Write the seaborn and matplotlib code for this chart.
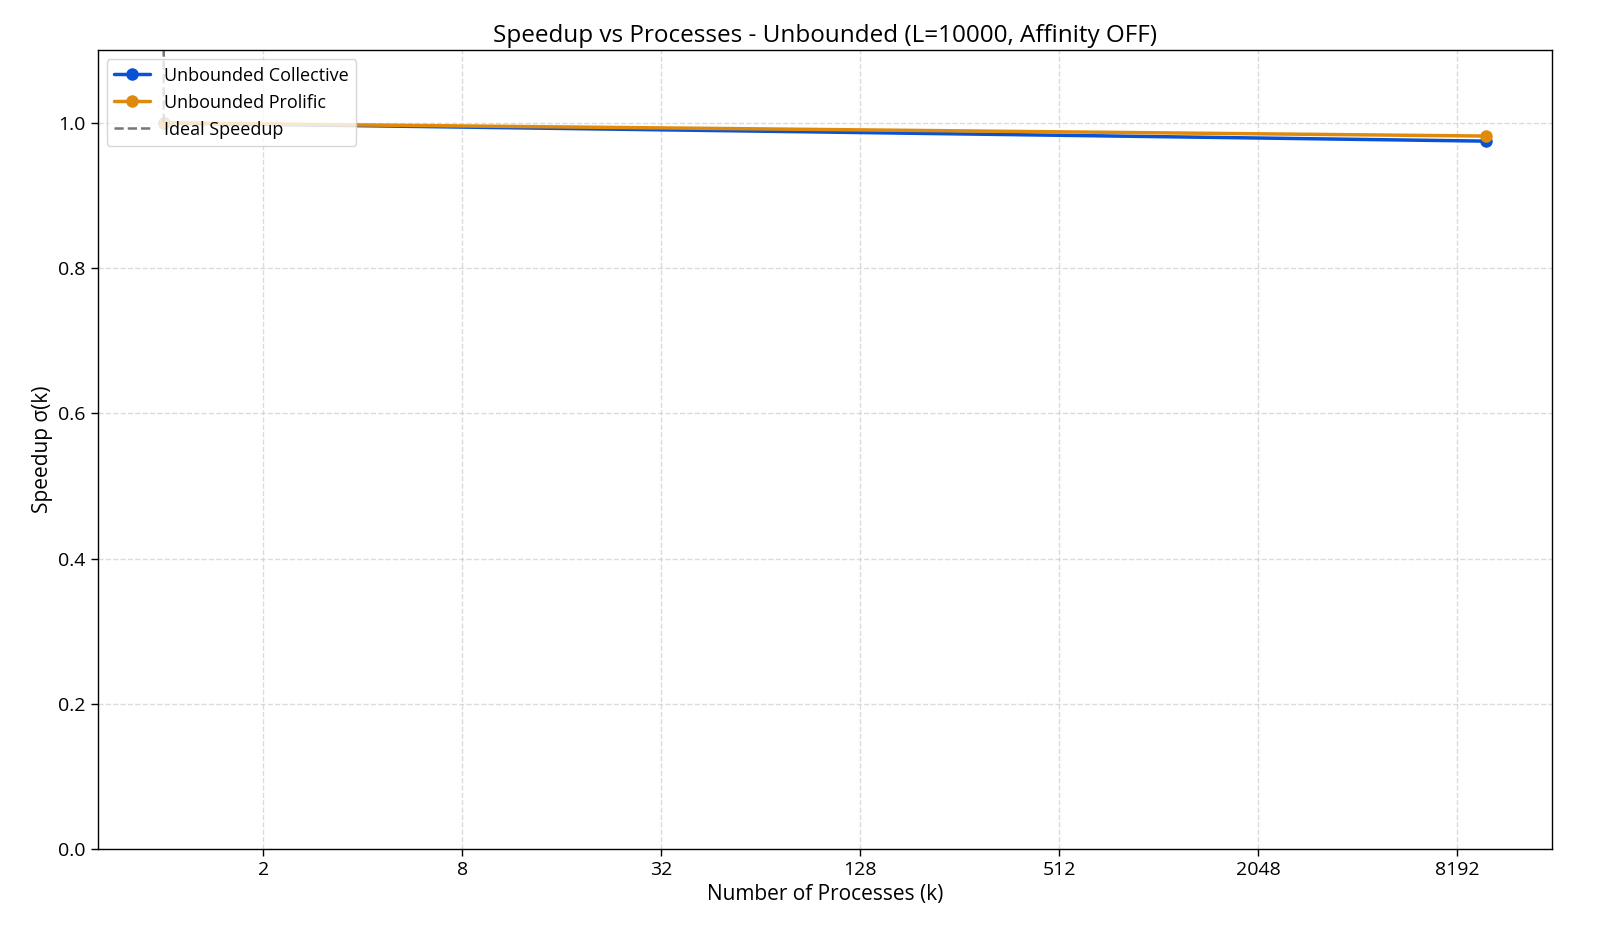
import matplotlib
matplotlib.use("Agg")
import matplotlib.pyplot as plt
import matplotlib.ticker as mticker
import seaborn as sns
import pandas as pd

processes = [1, 10000]
collective_speedup = [1.0, 0.975]
prolific_speedup = [1.0, 0.982]
ideal_speedup = [1, 10000]
xtick_values = [2, 8, 32, 128, 512, 2048, 8192]

sns.set_theme(style="white")
plt.rcParams['font.family'] = ['Open Sans', 'DejaVu Sans']
plt.rcParams['text.color'] = 'black'
plt.rcParams['axes.labelcolor'] = 'black'

df = pd.DataFrame({
    "k": processes * 2,
    "speedup": collective_speedup + prolific_speedup,
    "series": ["Unbounded Collective"] * 2 + ["Unbounded Prolific"] * 2,
})

fig, ax = plt.subplots(figsize=(16, 9.33), dpi=100)
palette = {"Unbounded Collective": "#0a52d4", "Unbounded Prolific": "#e08a0c"}
sns.lineplot(data=df, x="k", y="speedup", hue="series", palette=palette,
             marker="o", markersize=9, markeredgewidth=0, linewidth=2.5, ax=ax)
ax.plot(processes, ideal_speedup, linestyle="--", color="#555555", alpha=0.8,
        linewidth=1.8, label="Ideal Speedup")

ax.set_xscale("log", base=2)
ax.set_xticks(xtick_values)
ax.xaxis.set_major_formatter(mticker.FuncFormatter(lambda v, p: f"{int(round(v))}"))
ax.xaxis.set_minor_locator(mticker.NullLocator())
ax.set_ylim(0, 1.1)
ax.set_yticks([0.0, 0.2, 0.4, 0.6, 0.8, 1.0])
ax.grid(True, linestyle="--", color="#cccccc", alpha=0.7, linewidth=1)
ax.tick_params(axis="both", which="major", labelsize=14, length=5, width=1, colors="black", direction="out", bottom=True, left=True)
for s in ax.spines.values():
    s.set_color("black")
    s.set_linewidth(1)

ax.set_title("Speedup vs Processes - Unbounded (L=10000, Affinity OFF)", fontsize=17.5, color="black")
ax.set_xlabel("Number of Processes (k)", fontsize=15)
ax.set_ylabel("Speedup σ(k)", fontsize=15)
ax.legend(loc="upper left", fontsize=13, frameon=True, framealpha=0.8, edgecolor="#cccccc")

fig.subplots_adjust(left=0.061, right=0.970, top=0.946, bottom=0.09)
fig.savefig("out.png", dpi=100)
